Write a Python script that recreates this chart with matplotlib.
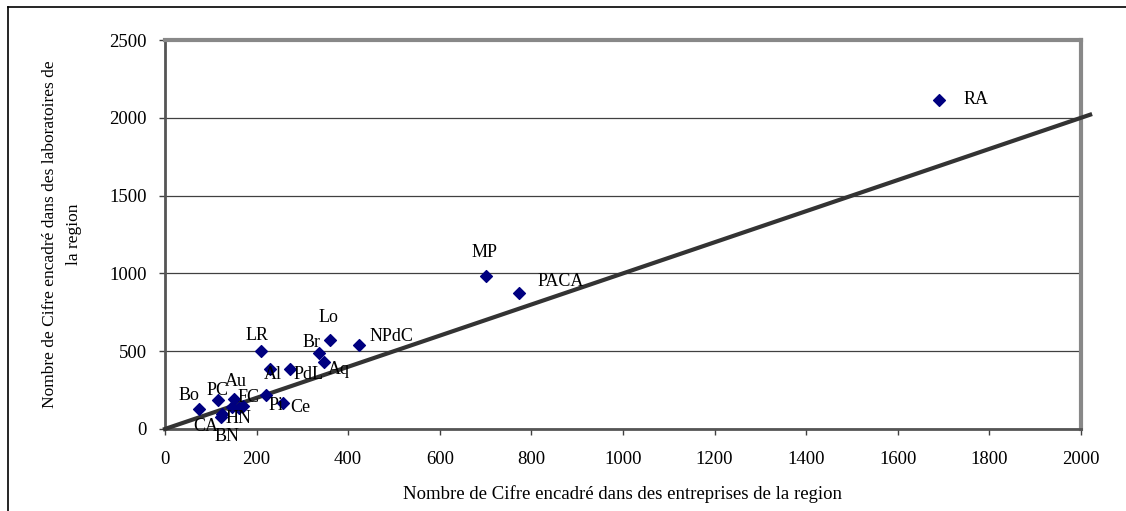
import matplotlib
matplotlib.use('Agg')
from matplotlib import pyplot as plt
from matplotlib.lines import Line2D

# regions (labels), CIFRE in companies (x), CIFRE in labs (y)
labels = ['RA', 'MP', 'PACA', 'NPdC', 'Lo', 'Br', 'LR', 'Aq', 'PdL', 'Al',
          'Au', 'PC', 'Bo', 'FC', 'Pi', 'Ce', 'HN', 'CA', 'BN', '']
entreprises = [1690, 700, 772, 423, 360, 336, 209, 347, 272, 229,
               151, 116, 74, 170, 220, 257, 161, 122, 125, 146]
laboratoires = [2115, 985, 876, 541, 573, 490, 503, 432, 387, 387,
                193, 187, 129, 148, 219, 168, 135, 77, 97, 142]

# label offsets in pixels
offsets = [(37, 0), (-1, 23), (42, 11), (33, 8), (-1, 22), (-7, 10), (-4, 15),
           (15, -8), (19, -6), (3, -6), (2, 17), (-1, 9), (-10, 13), (6, 8),
           (10, -11), (18, -5), (0, -11), (-15, -9), (5, -23), (0, 0)]

plt.rcParams['font.family'] = ['Liberation Serif', 'DejaVu Serif']

fig = plt.figure(figsize=(11.26, 5.11), dpi=100)
ax = fig.add_axes([0.1465, 0.1605, 0.8135, 0.7612])

ax.set_xlim(0, 2000)
ax.set_ylim(0, 2500)
ax.set_xticks(range(0, 2001, 200))
ax.set_yticks(range(0, 2501, 500))
ax.grid(axis='y', color='#404040', linewidth=0.9)
ax.set_axisbelow(True)

# diagonal y = x
ax.plot([0, 2020], [0, 2020], color='#333333', linewidth=3, clip_on=False, zorder=3)

ax.scatter(entreprises, laboratoires, marker='D', s=36, color='#000080', zorder=4)
for lab, xv, yv, off in zip(labels, entreprises, laboratoires, offsets):
    if lab:
        ax.annotate(lab, (xv, yv), xytext=off, textcoords='offset pixels',
                    ha='center', va='center', fontsize=13, color='black', zorder=5)

for side in ['top', 'right']:
    ax.spines[side].set_color('#888888')
    ax.spines[side].set_linewidth(3)
for side in ['left', 'bottom']:
    ax.spines[side].set_color('#555555')
    ax.spines[side].set_linewidth(2)

ax.tick_params(axis='both', direction='out', length=4, width=1, color='#404040',
               labelsize=13.5)
ax.tick_params(axis='x', pad=12)
ax.tick_params(axis='y', pad=9)

ax.set_xlabel('Nombre de Cifre encadré dans des entreprises de la region', fontsize=13.5, labelpad=12)
ax.set_ylabel('Nombre de Cifre encadré dans des laboratoires de\nla region', fontsize=12.5,
              labelpad=20, linespacing=1.6)

# outer frame, cut off at right and bottom
fig.add_artist(Line2D([8 / 1126, 8 / 1126], [0, 1 - 7 / 511], color='black', linewidth=1.2))
fig.add_artist(Line2D([8 / 1126, 1], [1 - 7 / 511, 1 - 7 / 511], color='black', linewidth=1.2))

plt.savefig('out.png', dpi=100)
